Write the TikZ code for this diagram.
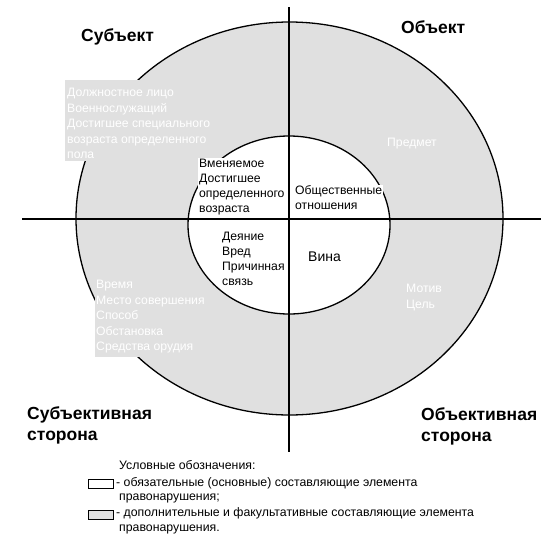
\documentclass[tikz,border=0pt]{standalone}
\usepackage{fontspec}
\setmainfont{Liberation Sans}
\usepackage{tikz}
\usetikzlibrary{positioning}
\definecolor{zonegray}{RGB}{224,224,224}

\begin{document}
\begin{tikzpicture}[
  x=1pt, y=-1pt,
  head/.style={font=\fontsize{17.5}{21}\selectfont\bfseries, inner sep=0pt, align=left},
  core/.style={font=\fontsize{12.2}{15}\selectfont, fill=white, inner sep=1pt,
               align=left, anchor=north west},
  extra/.style={font=\fontsize{12.2}{15.5}\selectfont, text=white, inner sep=0pt,
                align=left, anchor=north west},
  legtext/.style={font=\fontsize{12.3}{15}\selectfont, inner sep=0pt, anchor=base west},
  keybox/.style={draw=black, line width=1.4pt, minimum width=25pt, minimum height=9pt,
                 inner sep=0pt, anchor=north west},
  cross/.style={line width=1.3pt},
  rim/.style={draw=black, line width=1.3pt}
]
\useasboundingbox (0,0) rectangle (552,538);
%% outer zone and grey label boxes
\draw[rim, fill=zonegray] (289.5,218.5) ellipse [x radius=213.5, y radius=196.5];
\fill[zonegray] (65,80) rectangle (218,161);
\fill[zonegray] (95,277) rectangle (210,357);
%% inner zone
\draw[rim, fill=white] (289,225) ellipse [x radius=101, y radius=89];
%% axes
\coordinate (ax_w) at (22,219);
\coordinate (ax_e) at (541,219);
\coordinate (ax_n) at (289,7);
\coordinate (ax_s) at (289,452);
\draw[cross] (ax_w) -- (ax_e);
\draw[cross] (ax_n) -- (ax_s);
%% headings
\node[head, anchor=base west] (h_subj) at (81,41) {Субъект};
\node[head, anchor=base west] (h_obj)  at (401,34) {Объект};
\node[head, anchor=north west] (h_subjside) at (27,406) {Субъективная\\сторона};
\node[head, anchor=north west] (h_objside)  at (421,407) {Объективная\\сторона};
%% obligatory elements
\node[core] (c_subj) at (198,157.5) {Вменяемое\\Достигшее\\определенного\\возраста};
\node[core] (c_obj)  at (294,184.5) {Общественные\\отношения};
\node[core] (c_act)  at (221,231.4) {Деяние\\Вред\\Причинная\\связь};
\node[font=\fontsize{14}{17}\selectfont, anchor=base west, inner sep=0pt]
    (c_guilt) at (308,261.5) {Вина};
%% optional elements
\node[extra] (x_subj) at (67,88.4)
    {Должностное лицо\\Военнослужащий\\Достигшее специального\\возраста определенного\\пола};
\node[extra] (x_side) at (96,280.4)
    {Время\\Место совершения\\Способ\\Обстановка\\Средства орудия};
\node[extra, anchor=base west] (x_obj) at (387,146) {Предмет};
\node[extra] (x_motive) at (406,284.4) {Мотив\\Цель};
%% legend
\node[legtext] (l_title) at (119,469.5) {Условные обозначения:};
\node[keybox, fill=white]    (l_box1) at (88,479) {};
\node[legtext] (l_req)  at (116,486.5) {- обязательные (основные) составляющие элемента};
\node[legtext] (l_req2) at (119,500.5) {правонарушения;};
\node[keybox, fill=zonegray] (l_box2) at (88,510) {};
\node[legtext] (l_opt)  at (116,516.5) {- дополнительные и факультативные составляющие элемента};
\node[legtext] (l_opt2) at (119,531.5) {правонарушения.};
\end{tikzpicture}
\end{document}
